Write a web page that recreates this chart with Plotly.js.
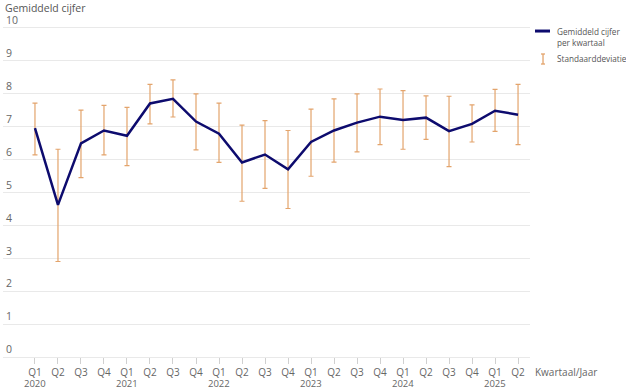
<!DOCTYPE html>
<html><head><meta charset="utf-8">
<script src="https://cdn.plot.ly/plotly-3.0.1.min.js"></script>
<style>html,body{margin:0;padding:0;background:#fff}#chart{width:626px;height:389px}</style>
</head><body><div id="chart"></div>
<script>
const quarters = ["Q1 2020","Q2 2020","Q3 2020","Q4 2020","Q1 2021","Q2 2021","Q3 2021","Q4 2021",
  "Q1 2022","Q2 2022","Q3 2022","Q4 2022","Q1 2023","Q2 2023","Q3 2023","Q4 2023",
  "Q1 2024","Q2 2024","Q3 2024","Q4 2024","Q1 2025","Q2 2025"];
const meanGrade = [6.95,4.62,6.49,6.88,6.72,7.70,7.84,7.15,6.78,5.91,6.15,5.70,6.53,6.88,7.12,7.30,7.20,7.27,6.86,7.08,7.48,7.36];
const sdUpper   = [7.71,6.31,7.50,7.64,7.58,8.28,8.42,7.99,7.71,7.04,7.18,6.88,7.53,7.84,7.99,8.14,8.09,7.93,7.92,7.66,8.13,8.28];
const sdLower   = [6.14,2.90,5.45,6.14,5.81,7.08,7.29,6.29,5.91,4.73,5.12,4.51,5.49,5.92,6.23,6.45,6.31,6.61,5.78,6.53,6.85,6.45];
const yTicks = [0,1,2,3,4,5,6,7,8,9,10];
const seriesNames = ["Gemiddeld cijfer<br>per kwartaal", "Standaarddeviatie"];

const xIdx = quarters.map((q,i)=>i);
const qText = quarters.map(q=>q.split(" ")[0]);
const yearAnn = quarters.map((q,i)=>({q:q.split(" ")[0], y:q.split(" ")[1], i:i})).filter(d=>d.q==="Q1");
const errColor = "#e3a46c";
const lineColor = "#0d0b6e";
const font = "Open Sans, Noto Sans, sans-serif";

const traces = [
  {
    x: xIdx, y: meanGrade, type: "scatter", mode: "lines",
    name: seriesNames[0],
    line: {color: lineColor, width: 2.5},
    error_y: {type: "data", symmetric: false,
      array: sdUpper.map((u,i)=>u-meanGrade[i]),
      arrayminus: sdLower.map((l,i)=>meanGrade[i]-l),
      color: errColor, thickness: 1.2, width: 2.5},
    hoverinfo: "skip"
  }
];

// manual legend (paper coordinates)
const legendShapes = [
  {type: "line", xref: "paper", yref: "paper", x0: 1.0095, x1: 1.038, y0: 0.934, y1: 0.934,
    line: {color: lineColor, width: 3}},
  {type: "line", xref: "paper", yref: "paper", x0: 1.0247, x1: 1.0247, y0: 0.8395, y1: 0.8682,
    line: {color: errColor, width: 1.3}},
  {type: "line", xref: "paper", yref: "paper", x0: 1.0209, x1: 1.0285, y0: 0.8682, y1: 0.8682,
    line: {color: errColor, width: 1.3}},
  {type: "line", xref: "paper", yref: "paper", x0: 1.0209, x1: 1.0285, y0: 0.8395, y1: 0.8395,
    line: {color: errColor, width: 1.3}}
];

const annotations = [
  {text: "Gemiddeld cijfer", xref: "paper", yref: "paper", x: 0, y: 1.0,
    xanchor: "left", yanchor: "middle", showarrow: false,
    font: {family: font, size: 10.5, color: "#555"}},
  {text: "Kwartaal/Jaar", xref: "paper", yref: "paper", x: 1.005, y: -0.044,
    xanchor: "left", yanchor: "middle", showarrow: false,
    font: {family: font, size: 10, color: "#666"}},
  {text: seriesNames[0], xref: "paper", yref: "paper", x: 1.0474, y: 0.955,
    xanchor: "left", yanchor: "top", align: "left", showarrow: false,
    font: {family: font, size: 8.2, color: "#555"}},
  {text: seriesNames[1], xref: "paper", yref: "paper", x: 1.0474, y: 0.8539,
    xanchor: "left", yanchor: "middle", align: "left", showarrow: false,
    font: {family: font, size: 8.2, color: "#555"}}
].concat(yearAnn.map(d=>({
  text: d.y, xref: "x", yref: "paper", x: d.i, y: 0, yshift: -26,
  xanchor: "center", yanchor: "middle", showarrow: false,
  font: {family: font, size: 9.5, color: "#666"}
})));

const layout = {
  width: 626, height: 389,
  margin: {l: 3, r: 96, t: 8, b: 32, autoexpand: false},
  paper_bgcolor: "#fff", plot_bgcolor: "#fff",
  font: {family: font, color: "#555", size: 10},
  showlegend: false,
  xaxis: {
    range: [-1.39, 21.52], tickmode: "array", tickvals: xIdx, ticktext: qText,
    showgrid: false, zeroline: false, showline: false,
    ticks: "outside", ticklen: 6, tickcolor: "#d0d0d0", tickwidth: 1,
    tickfont: {family: font, size: 10, color: "#666"}, fixedrange: true
  },
  yaxis: {
    range: [0, 10.6], tickmode: "array", tickvals: yTicks,
    showgrid: true, gridcolor: "#e9e9e9", gridwidth: 1,
    zeroline: true, zerolinecolor: "#e9e9e9", zerolinewidth: 1,
    showline: false, ticks: "",
    ticklabelposition: "inside top",
    tickfont: {family: font, size: 10.5, color: "#666"}, fixedrange: true
  },
  shapes: legendShapes,
  annotations: annotations
};

Plotly.newPlot("chart", traces, layout, {displayModeBar: false, staticPlot: true});
</script></body></html>
